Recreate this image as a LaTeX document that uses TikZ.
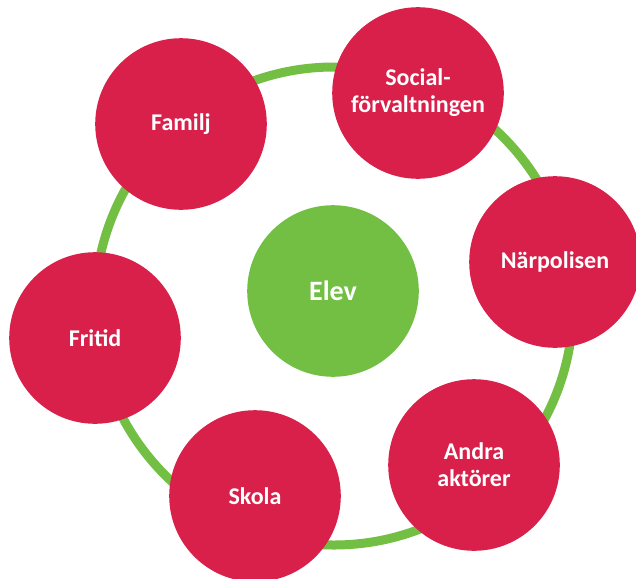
\documentclass[tikz,border=0pt]{standalone}
\usepackage{fontspec}
\setmainfont{Carlito}
\usepackage{tikz}

\definecolor{roed}{RGB}{217,32,74}
\definecolor{groen}{RGB}{114,191,68}

\tikzset{
  part/.style={circle, fill=roed, draw=none, minimum size=171.6pt, inner sep=0pt,
    text=white, align=center, font=\fontsize{24}{27}\selectfont\bfseries},
  mitt/.style={part, fill=groen, font=\fontsize{28}{32}\selectfont\bfseries},
  ring/.style={draw=groen, line width=9pt}
}

\begin{document}
\begin{tikzpicture}[x=1pt, y=-1pt]
        \useasboundingbox (0,0) rectangle (636,578);
        \coordinate (mid) at (334,306);
        \draw[ring] (mid) circle (239);

        \node[mitt] (elev) at (333,291) {Elev};

        \node[part] (familj) at (181,124) {Familj};
        \node[part] (social) at (418,93) {Social-\\förvaltningen};
        \node[part] (polis)  at (555,262) {Närpolisen};
        \node[part] (andra)  at (474,465) {Andra\\aktörer};
        \node[part] (skola)  at (255,496) {Skola};
        \node[part] (fritid) at (95,338) {Fritid};
    \end{tikzpicture}
\end{document}
